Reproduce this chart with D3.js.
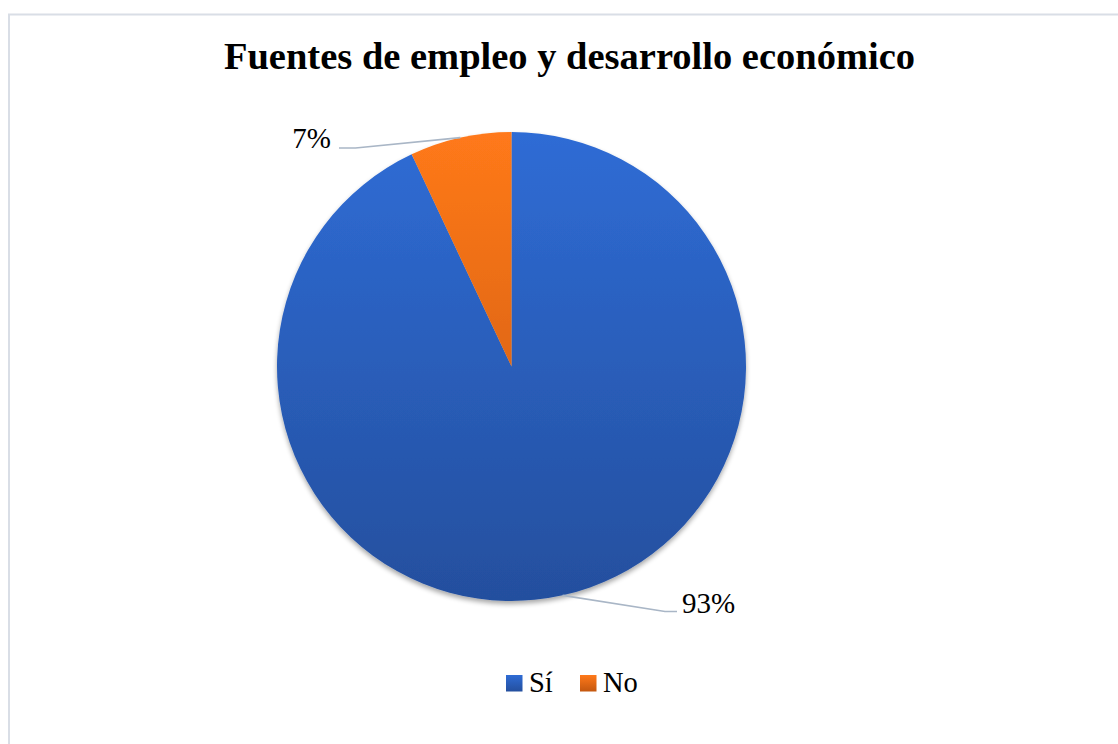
<!DOCTYPE html>
<html>
<head>
<meta charset="utf-8">
<script src="https://cdn.jsdelivr.net/npm/d3@7"></script>
<style>
  html, body { margin: 0; padding: 0; background: #fff; }
  svg { display: block; }
  text { font-family: "Liberation Serif", "Times New Roman", Times, serif; }
</style>
</head>
<body>
<svg id="chart" width="1118" height="744"></svg>
<script>
// Survey answers and their shares (percent)
const categories = ["Sí", "No"];
const shares = [93, 7];
const labels = ["93%", "7%"];
const chartTitle = "Fuentes de empleo y desarrollo económico";

const W = 1118, H = 744;
const cx = 511.5, cy = 366.5, radius = 234.5;

const svg = d3.select("#chart");
const defs = svg.append("defs");

// Vertical shading across the whole pie (light at the top, darker at the bottom)
const gradStops = {
  "Sí": ["#2F6CD5", "#244F9E"],
  "No": ["#FF791A", "#C4570F"]
};
categories.forEach((c, i) => {
  const g = defs.append("linearGradient")
    .attr("id", "grad" + i)
    .attr("gradientUnits", "userSpaceOnUse")
    .attr("x1", 0).attr("y1", -radius)
    .attr("x2", 0).attr("y2", radius);
  g.append("stop").attr("offset", "0%").attr("stop-color", gradStops[c][0]);
  g.append("stop").attr("offset", "100%").attr("stop-color", gradStops[c][1]);
  const lg = defs.append("linearGradient")
    .attr("id", "lgrad" + i)
    .attr("x1", 0).attr("y1", 0).attr("x2", 0).attr("y2", 1);
  lg.append("stop").attr("offset", "0%").attr("stop-color", gradStops[c][0]);
  lg.append("stop").attr("offset", "100%").attr("stop-color", gradStops[c][1]);
});

// Soft shadow under the pie
const shadow = defs.append("filter").attr("id", "pieShadow")
  .attr("x", "-10%").attr("y", "-10%").attr("width", "120%").attr("height", "125%");
shadow.append("feGaussianBlur").attr("in", "SourceAlpha").attr("stdDeviation", 2.5).attr("result", "blur");
shadow.append("feOffset").attr("in", "blur").attr("dx", 0).attr("dy", 3).attr("result", "off");
shadow.append("feComponentTransfer").attr("in", "off").attr("result", "shadowA")
  .append("feFuncA").attr("type", "linear").attr("slope", 0.35);
const merge = shadow.append("feMerge");
merge.append("feMergeNode").attr("in", "shadowA");
merge.append("feMergeNode").attr("in", "SourceGraphic");

// Chart area frame
svg.append("rect")
  .attr("x", 9).attr("y", 14.5)
  .attr("width", W + 20).attr("height", H + 20)
  .attr("fill", "#fff")
  .attr("stroke", "#D9DEE6").attr("stroke-width", 2);

// Title
svg.append("text")
  .attr("x", 569.5).attr("y", 69)
  .attr("text-anchor", "middle")
  .style("font-weight", "bold")
  .style("font-size", "38.5px")
  .attr("fill", "#000")
  .text(chartTitle);

// Pie layout: first slice starts at 12 o'clock, clockwise, in data order
const pie = d3.pie().sort(null).value(d => d)(shares);
const arc = d3.arc().innerRadius(0).outerRadius(radius);
const edgeArc = d3.arc().innerRadius(radius).outerRadius(radius);

const g = svg.append("g").attr("transform", `translate(${cx},${cy})`);
g.append("g").attr("filter", "url(#pieShadow)")
  .selectAll("path")
  .data(pie)
  .join("path")
  .attr("d", arc)
  .attr("fill", (d, i) => `url(#grad${i})`);

// Data labels with leader lines; placements relative to the pie centre
const labelPlacement = [
  { x: 170.5, y: 246.5, anchor: "start", lineY: 245, elbowX: 153.5, endX: 165.5 },   // 93%
  { x: -180.5, y: -218.5, anchor: "end", lineY: -218.5, elbowX: -156, endX: -172.5 } // 7%
];
pie.forEach((d, i) => {
  const p = labelPlacement[i];
  const [sx, sy] = edgeArc.centroid(d);
  g.append("polyline")
    .attr("points", [[sx, sy], [p.elbowX, p.lineY], [p.endX, p.lineY]].map(q => q.join(",")).join(" "))
    .attr("fill", "none")
    .attr("stroke", "#A9B6C6")
    .attr("stroke-width", 1.6);
  g.append("text")
    .attr("x", p.x).attr("y", p.y)
    .attr("text-anchor", p.anchor)
    .style("font-size", "29px")
    .attr("fill", "#000")
    .text(labels[i]);
});

// Legend
const legend = svg.append("g");
const legendX = [506, 580];
categories.forEach((c, i) => {
  legend.append("rect")
    .attr("x", legendX[i]).attr("y", 675)
    .attr("width", 16.5).attr("height", 16.5)
    .attr("fill", `url(#lgrad${i})`);
  legend.append("text")
    .attr("x", legendX[i] + 23).attr("y", 692)
    .style("font-size", "28.5px")
    .attr("fill", "#000")
    .text(c);
});
</script>
</body>
</html>
